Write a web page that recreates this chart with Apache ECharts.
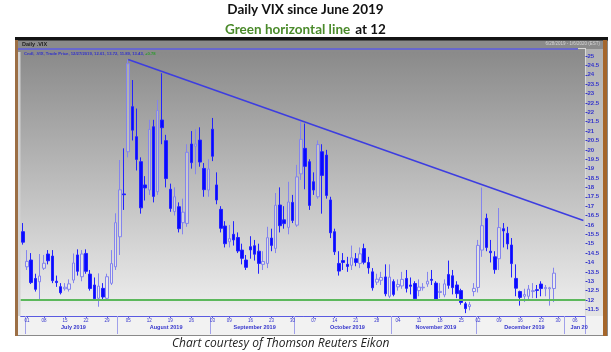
<!DOCTYPE html>
<html>
<head>
<meta charset="utf-8">
<script src="https://cdn.jsdelivr.net/npm/echarts@6/dist/echarts.min.js"></script>
<style>
  html, body { margin: 0; padding: 0; background: #fff; }
  #main { width: 611px; height: 352px; }
</style>
</head>
<body>
<div id="main"></div>
<script>
// trading days, grouped by month (the last few are empty days to the right of the data)
var tradingDays = [
  ['2019-06', [28]],
  ['2019-07', [1,2,3,5,8,9,10,11,12,15,16,17,18,19,22,23,24,25,26,29,30,31]],
  ['2019-08', [1,2,5,6,7,8,9,12,13,14,15,16,19,20,21,22,23,26,27,28,29,30]],
  ['2019-09', [3,4,5,6,9,10,11,12,13,16,17,18,19,20,23,24,25,26,27,30]],
  ['2019-10', [1,2,3,4,7,8,9,10,11,14,15,16,17,18,21,22,23,24,25,28,29,30,31]],
  ['2019-11', [1,4,5,6,7,8,11,12,13,14,15,18,19,20,21,22,25,26,27,29]],
  ['2019-12', [2,3,4,5,6,9,10,11,12,13,16,17,18,19,20,23,24,26,27,30,31]],
  ['2020-01', [2,3,6,7,8]]
];
var monthLabels = {
  '2019-07': 'July 2019', '2019-08': 'August 2019', '2019-09': 'September 2019',
  '2019-10': 'October 2019', '2019-11': 'November 2019', '2019-12': 'December 2019',
  '2020-01': 'Jan 20'
};
var yTicks = [11.5,12,12.5,13,13.5,14,14.5,15,15.5,16,16.5,17,17.5,18,18.5,19,19.5,
  20,20.5,21,21.5,22,22.5,23,23.5,24,24.5,25];

// .VIX daily candles, 6/28/2019 - 12/27/2019
var openPx = [15.64,
  13.77,14.13,13.15,12.97,13.69,14.45,14.34,13.00,12.71,12.60,12.57,13.06,14.40,13.24,14.48,13.38,12.80,12.09,12.62,12.09,12.89,13.77,
  15.37,17.65,19.90,22.30,20.70,19.37,18.13,17.86,21.23,17.77,21.59,20.49,17.90,16.71,16.97,16.12,16.08,20.31,20.19,20.52,19.01,17.86,
  21.10,18.13,16.83,15.94,15.10,15.50,15.33,14.66,14.13,14.84,14.89,14.60,13.90,13.95,15.30,14.75,17.06,16.27,15.87,17.20,
  15.99,18.72,20.08,19.37,18.30,17.50,19.90,19.72,17.33,15.64,13.95,14.10,13.90,13.85,14.20,13.95,14.74,14.00,13.50,12.95,13.05,13.23,12.20,
  12.98,12.70,12.75,13.15,12.80,12.88,12.50,12.65,12.85,13.10,12.90,12.40,12.27,13.36,13.29,12.80,12.50,11.80,11.65,12.45,
  12.67,14.66,16.35,14.60,14.30,14.20,15.80,15.55,14.93,13.15,12.45,12.20,12.20,12.45,12.55,12.85,12.60,12.60,12.61];
var closePx = [15.08,
  14.06,12.93,12.57,13.28,13.96,14.09,13.03,12.93,12.39,12.68,12.86,13.97,13.53,14.45,13.53,12.61,12.07,12.74,12.16,13.24,13.94,16.12,
  17.87,17.61,24.59,21.05,19.49,16.91,17.97,21.09,17.52,22.10,21.18,18.47,16.88,17.50,15.80,16.68,19.87,19.32,20.31,19.35,17.88,18.98,
  19.66,17.33,15.82,15.00,15.27,15.20,14.61,14.22,13.74,14.67,14.44,13.95,14.05,15.32,14.91,17.05,15.96,16.07,17.22,16.24,
  18.56,20.56,19.12,17.04,17.86,20.28,18.64,17.57,15.58,14.57,13.54,14.00,13.79,14.25,14.00,14.46,14.01,13.71,12.65,13.11,13.20,12.33,13.22,
  12.30,12.83,13.10,12.62,12.73,12.07,12.69,12.68,13.00,13.05,12.05,12.46,12.86,12.78,12.66,12.34,11.87,11.54,11.75,12.62,
  14.91,15.96,14.80,14.52,13.62,15.86,15.68,14.99,13.94,12.63,12.14,12.29,12.58,12.50,12.51,12.61,12.67,12.65,13.43];
var lowPx = [14.95,
  13.60,12.85,12.45,12.05,13.60,13.90,12.90,12.70,12.30,12.50,12.45,12.90,13.30,13.00,13.40,12.50,12.00,11.64,12.05,12.00,12.80,13.60,
  14.40,16.80,19.60,20.50,18.90,16.60,17.30,17.60,17.20,17.60,20.30,18.00,16.70,16.50,15.60,15.50,15.90,19.00,18.70,19.10,17.50,17.50,
  19.40,17.10,15.60,14.80,14.80,14.90,14.50,13.90,13.60,14.20,14.10,13.40,13.60,13.70,14.60,14.50,15.60,15.80,15.50,16.10,
  15.90,18.40,17.90,16.80,17.60,17.40,16.60,17.40,15.30,14.40,13.30,13.60,13.50,13.60,13.80,13.70,13.90,13.40,12.50,12.80,12.80,12.20,12.10,
  12.20,12.50,12.60,12.40,12.30,11.95,12.20,12.50,12.70,12.80,11.95,12.10,12.15,12.60,12.30,12.10,11.75,11.30,11.45,12.20,
  12.40,14.30,14.60,14.00,13.40,13.60,14.80,14.70,13.20,12.20,11.70,11.90,12.00,12.10,12.10,12.20,12.20,11.70,11.89];
var highPx = [16.10,
  14.66,14.50,13.40,14.45,14.40,14.66,14.66,13.30,12.90,12.90,13.10,14.48,14.70,14.66,14.70,13.60,13.20,13.42,12.90,13.40,14.66,16.62,
  19.46,20.08,24.81,23.72,22.20,19.60,18.60,21.60,21.60,22.66,24.08,20.80,18.20,18.00,17.20,17.40,20.30,21.00,21.10,21.20,19.30,19.50,
  21.70,18.80,17.00,16.20,16.00,16.20,15.60,15.00,14.40,15.40,15.20,15.00,14.60,15.90,15.80,17.70,18.00,17.00,18.30,17.60,
  19.20,21.50,21.40,19.50,18.80,20.50,20.30,20.00,17.50,15.80,14.60,14.50,14.30,14.90,14.50,14.80,15.00,14.30,13.70,13.40,13.50,13.90,13.90,
  13.10,13.10,13.50,13.60,13.20,13.00,13.10,12.90,13.50,13.60,13.00,12.90,13.10,14.10,13.60,13.00,12.60,11.90,11.90,12.90,
  15.20,17.99,16.60,15.20,14.60,16.90,16.10,15.90,15.30,13.90,12.50,12.60,12.80,12.90,12.80,13.00,12.80,12.70,13.72];

// trend line from the Aug 5 high, green support line at 12
var trendFrom = ['2019-08-05', 24.81];
var trendTo = ['2020-01-08', 16.24];
var supportLevel = 12;

var dates = [];
var monthOf = [];
tradingDays.forEach(function (m) {
  m[1].forEach(function (d) {
    dates.push(m[0] + '-' + (d < 10 ? '0' : '') + d);
    monthOf.push(m[0]);
  });
});

var candles = openPx.map(function (o, i) {
  return [o, closePx[i], lowPx[i], highPx[i]];
});

// first trading day of each week gets a day label
var weekStart = dates.map(function (d, i) {
  if (i === 0) return false;
  var cur = new Date(d + 'T00:00:00Z'), prev = new Date(dates[i - 1] + 'T00:00:00Z');
  return cur.getUTCDay() <= prev.getUTCDay() || (cur - prev) > 6 * 864e5;
});
// month separators and month name in the middle of each month
var monthStart = dates.map(function (d, i) {
  return i > 0 && monthOf[i] !== monthOf[i - 1];
});
var monthMid = dates.map(function () { return false; });
Object.keys(monthLabels).forEach(function (m) {
  var first = monthOf.indexOf(m), last = monthOf.lastIndexOf(m);
  monthMid[Math.floor((first + last + 2) / 2)] = true;
});

var blue = '#3535cc';
var smallFont = 'Liberation Sans';

var myChart = echarts.init(document.getElementById('main'));

var option = {
  animation: false,
  backgroundColor: '#ffffff',
  title: [{
    text: 'Daily VIX since June 2019',
    left: 'center', top: 3, padding: 0,
    textStyle: { fontFamily: 'Lato', fontWeight: 'bold', fontSize: 13.5, color: '#111' }
  }, {
    text: '{g|Green horizontal line} {k|at 12}',
    left: 'center', top: 21, padding: 0,
    textStyle: {
      rich: {
        g: { fontFamily: 'Lato', fontWeight: 'bold', fontSize: 13.5, color: '#4a8a2a' },
        k: { fontFamily: 'Lato', fontWeight: 'bold', fontSize: 13.5, color: '#111' }
      }
    }
  }, {
    text: 'Chart courtesy of Thomson Reuters Eikon',
    left: 172, top: 338, padding: 0,
    textStyle: { fontFamily: 'Open Sans', fontStyle: 'italic', fontWeight: 'normal', fontSize: 12, color: '#222' }
  }],
  graphic: [
    { type: 'rect', z: -10, silent: true, shape: { x: 15, y: 37, width: 593, height: 299 }, style: { fill: '#8b8b8b' } },
    { type: 'rect', z: -9, silent: true, shape: { x: 15, y: 37, width: 593, height: 3.5 }, style: { fill: '#141414' } },
    { type: 'rect', z: -9, silent: true, shape: { x: 20, y: 52, width: 566, height: 264 },
      style: { fill: new echarts.graphic.LinearGradient(0, 0, 0, 1, [
        { offset: 0, color: '#8a8a8a' }, { offset: 1, color: '#f0f0f0' }]) } },
    { type: 'rect', z: -9, silent: true, shape: { x: 586, y: 49, width: 17, height: 267 },
      style: { fill: new echarts.graphic.LinearGradient(0, 0, 0, 1, [
        { offset: 0, color: '#b2b2b2' }, { offset: 1, color: '#e4e4e4' }]) } },
    { type: 'rect', z: -9, silent: true, shape: { x: 18, y: 316, width: 585, height: 19 }, style: { fill: '#f2f2f2' } },
    { type: 'rect', z: -8, silent: true, shape: { x: 18, y: 52, width: 2.5, height: 264 }, style: { fill: '#d2d2d2' } },
    { type: 'rect', z: -8, silent: true, shape: { x: 15, y: 40, width: 3, height: 296 }, style: { fill: '#9c6f45' } },
    { type: 'rect', z: -8, silent: true, shape: { x: 603, y: 40, width: 4, height: 296 }, style: { fill: '#a5662b' } },
    { type: 'line', z: -8, silent: true, shape: { x1: 18, y1: 49, x2: 578, y2: 49 }, style: { stroke: '#6868cc', lineWidth: 2 } },
    { type: 'line', z: -8, silent: true, shape: { x1: 578, y1: 48.5, x2: 586, y2: 48.5 }, style: { stroke: '#d6d6d6', lineWidth: 1 } },
    { type: 'line', z: -8, silent: true, shape: { x1: 585.5, y1: 48.5, x2: 585.5, y2: 316 }, style: { stroke: '#dadada', lineWidth: 1 } },
    { type: 'line', z: -8, silent: true, shape: { x1: 18, y1: 335.5, x2: 603, y2: 335.5 }, style: { stroke: '#8a8a8a', lineWidth: 1 } },
    { type: 'text', z: 10, silent: true, x: 22, y: 44.5,
      style: { text: 'Daily .VIX', fontFamily: smallFont, fontSize: 5.5, fontWeight: 'bold', fill: '#1e1e1e', verticalAlign: 'middle' } },
    { type: 'text', z: 10, silent: true, x: 600, y: 44,
      style: { text: '6/28/2019 - 1/6/2020 (EST)', fontFamily: smallFont, fontSize: 4.5, fill: '#d4d4d4', align: 'right', verticalAlign: 'middle' } },
    { type: 'text', z: 10, silent: true, x: 24, y: 53.5,
      style: {
        text: '{b|Cndl, .VIX, Trade Price, 12/27/2019, 12.61, 13.72, 11.89, 13.43, }{g|+0.78}',
        verticalAlign: 'middle',
        rich: {
          b: { fontFamily: smallFont, fontSize: 4.2, fontWeight: 'bold', fill: '#3030cc' },
          g: { fontFamily: smallFont, fontSize: 4.2, fontWeight: 'bold', fill: '#2a9a2a' }
        }
      } }
  ],
  grid: { left: 20.7, top: 52, width: 564.8, height: 264 },
  xAxis: [{
    type: 'category', data: dates, boundaryGap: true,
    axisLine: { show: true, lineStyle: { color: '#5a5ae0', width: 1 } },
    axisTick: { show: true, alignWithLabel: true, length: 2,
      interval: function (i) { return weekStart[i]; }, lineStyle: { color: '#5a5ae0' } },
    axisLabel: { interval: function (i) { return weekStart[i]; },
      formatter: function (v) { return v.slice(8); },
      fontFamily: smallFont, fontSize: 4.5, color: blue, margin: 2.5 },
    splitLine: { show: false }
  }, {
    type: 'category', data: dates, boundaryGap: true, position: 'bottom',
    axisLine: { show: false },
    axisTick: { show: true, length: 18,
      interval: function (i) { return monthStart[i]; }, lineStyle: { color: '#a0a0ea' } },
    axisLabel: { interval: function (i) { return monthMid[i]; },
      formatter: function (v) { return monthLabels[v.slice(0, 7)] || ''; },
      fontFamily: smallFont, fontSize: 5.5, fontWeight: 'bold', color: blue, margin: 8.5 },
    splitLine: { show: false }
  }],
  yAxis: {
    type: 'value', position: 'right', min: 11.148, max: 25.213,
    axisLine: { show: false },
    splitLine: { show: false },
    axisTick: { show: true, customValues: yTicks, length: 2, lineStyle: { color: blue } },
    axisLabel: { customValues: yTicks, fontFamily: smallFont, fontSize: 6, fontWeight: 'bold', color: blue, margin: 2 }
  },
  series: [{
    type: 'candlestick',
    data: candles,
    barWidth: 3,
    itemStyle: {
      color: 'rgba(255,255,255,0.25)', borderColor: '#8484ee',
      color0: '#0a0aff', borderColor0: '#2222ff', borderWidth: 1
    },
    markLine: {
      silent: true, symbol: ['none', 'none'], label: { show: false },
      data: [
        { yAxis: supportLevel, lineStyle: { color: '#5cb85c', width: 2, type: 'solid' } },
        [{ coord: trendFrom, lineStyle: { color: '#3d3de0', width: 1.5, type: 'solid' } }, { coord: trendTo }]
      ]
    }
  }]
};

myChart.setOption(option);
</script>
</body>
</html>
